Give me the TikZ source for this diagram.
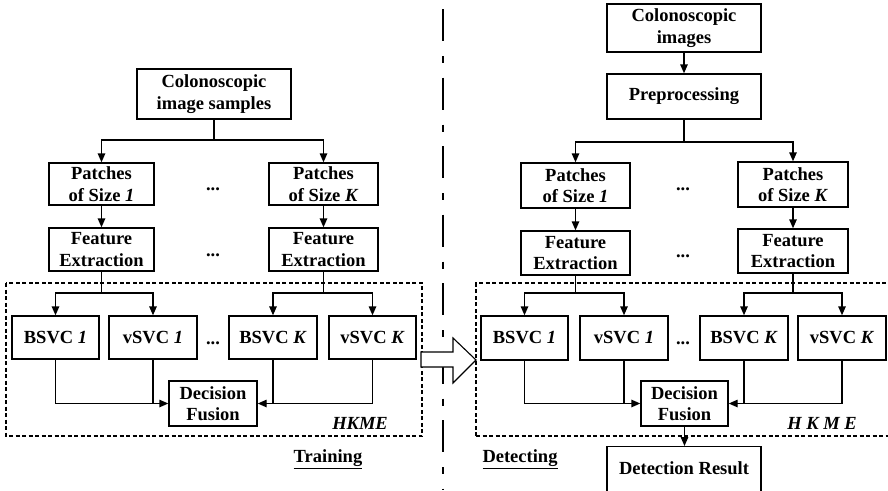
\documentclass[tikz,border=0pt]{standalone}
\usepackage{fontspec}
\setmainfont{Liberation Serif}
\usetikzlibrary{arrows.meta}
\begin{document}
\begin{tikzpicture}[x=1pt,y=-1pt,
  box/.style={draw, line width=1.4pt, inner sep=0pt, align=center},
  sz/.style 2 args={minimum width=#1pt, minimum height=#2pt},
  arr/.style={line width=1.4pt, -{Triangle[length=9pt,width=7.5pt]}},
  link/.style={line width=1.4pt},
  hk/.style={draw, line width=1.1pt, dash pattern=on 4pt off 2.5pt},
  dots/.style={anchor=base, inner sep=0pt},
  font=\fontsize{18.5}{21.5}\selectfont\bfseries]
\useasboundingbox (0,0) rectangle (888,490);
\clip (0,0) rectangle (888,490);

% ---------------- Training (left half) ----------------
\draw[hk] (6,283) rectangle (422,436);
\node[box, sz={154}{50}] (cis) at (214,94) {Colonoscopic\\image samples};
\node[box, sz={105}{42}] (p1L) at (101.5,184) {Patches\\of Size \textit{1}};
\node[box, sz={109}{42}] (pKL) at (323.5,184) {Patches\\of Size \textit{K}};
\node[box, sz={105}{43}] (f1L) at (101.5,249.5) {Feature\\Extraction};
\node[box, sz={109}{43}] (fKL) at (323.5,249.5) {Feature\\Extraction};
\node[dots] (d1L) at (213,190) {...};
\node[dots] (d2L) at (213,256) {...};
\node[box, sz={87}{43}] (b1L) at (55.5,337.5) {BSVC \textit{1}};
\node[box, sz={88}{43}] (v1L) at (153,337.5) {vSVC \textit{1}};
\node[box, sz={88}{43}] (bKL) at (273,337.5) {BSVC \textit{K}};
\node[box, sz={87}{43}] (vKL) at (372.5,337.5) {vSVC \textit{K}};
\node[dots] (d3L) at (213,344) {...};
\node[box, sz={88}{45}] (dfL) at (213,403.5) {Decision\\Fusion};
\node[anchor=base east, inner sep=0pt, font=\fontsize{18.5}{21.5}\selectfont\bfseries\itshape] (hkL) at (388,429) {HKME};
\node[inner sep=0pt] (trn) at (328,459) {\underline{Training}};

\draw[link] (cis.south) -- (cis.south |- 0,140) coordinate (jcL);
\draw[arr] (jcL) -| (p1L.north);
\draw[arr] (jcL) -| (pKL.north);
\draw[arr] (p1L) -- (f1L);
\draw[arr] (pKL) -- (fKL);
\draw[link] (f1L.south) -- (f1L.south |- 0,293) coordinate (j1L);
\draw[arr] (j1L) -| (b1L.north);
\draw[arr] (j1L) -| (v1L.north);
\draw[link] (fKL.south) -- (fKL.south |- 0,293) coordinate (jKL);
\draw[arr] (jKL) -| (bKL.north);
\draw[arr] (jKL) -| (vKL.north);
\draw[arr] (b1L.south) |- (dfL.west);
\draw[link] (v1L.south) -- (v1L.south |- dfL.west);
\draw[arr] (vKL.south) |- (dfL.east);
\draw[link] (bKL.south) -- (bKL.south |- dfL.east);

% ---------------- divider ----------------
\draw[line width=1.3pt, dash pattern=on 32pt off 15pt on 7pt off 14.5pt, dash phase=59.5pt]
  (443,0) -- (443,490);

% hollow arrow from training to detecting
\draw[line width=1.1pt, fill=white]
  (421,352) -- (453,352) -- (453,338) -- (476,360) -- (453,383) -- (453,367) -- (421,367) -- cycle;

% ---------------- Detecting (right half) ----------------
\draw[hk] (476,436) -- (476,283) -- (900,283);
\draw[hk] (476,436) -- (900,436);
\node[box, sz={154}{48}] (ci) at (684,28) {Colonoscopic\\images};
\node[box, sz={154}{45}] (pre) at (684,96.5) {Preprocessing};
\node[box, sz={109}{45}] (p1R) at (575.5,185.5) {Patches\\of Size \textit{1}};
\node[box, sz={110}{45}] (pKR) at (793,184.5) {Patches\\of Size \textit{K}};
\node[box, sz={109}{44}] (f1R) at (575.5,253) {Feature\\Extraction};
\node[box, sz={110}{44}] (fKR) at (793,251) {Feature\\Extraction};
\node[dots] (d1R) at (683,190) {...};
\node[dots] (d2R) at (683,257) {...};
\node[box, sz={87}{44}] (b1R) at (524.5,338) {BSVC \textit{1}};
\node[box, sz={88}{44}] (v1R) at (624,338) {vSVC \textit{1}};
\node[box, sz={88}{44}] (bKR) at (744,338) {BSVC \textit{K}};
\node[box, sz={88}{44}] (vKR) at (842,338) {vSVC \textit{K}};
\node[dots] (d3R) at (683,344) {...};
\node[box, sz={87}{45}] (dfR) at (684.5,403.5) {Decision\\Fusion};
\node[anchor=base east, inner sep=0pt, font=\fontsize{18.5}{21.5}\selectfont\bfseries\itshape] (hkR) at (857,429) {H K M E};
\node[inner sep=0pt] (det) at (520,459) {\underline{Detecting}};
\node[box, sz={154}{64}, anchor=north] (res) at (684,446) {};
\node[inner sep=0pt] (resT) at (684,468) {Detection Result};

\draw[arr] (ci) -- (pre);
\draw[link] (pre.south) -- (pre.south |- 0,142) coordinate (jcR);
\draw[arr] (jcR) -| (p1R.north);
\draw[arr] (jcR) -| (pKR.north);
\draw[arr] (p1R) -- (f1R);
\draw[arr] (pKR) -- (fKR);
\draw[link] (f1R.south) -- (f1R.south |- 0,293) coordinate (j1R);
\draw[arr] (j1R) -| (b1R.north);
\draw[arr] (j1R) -| (v1R.north);
\draw[link] (fKR.south) -- (fKR.south |- 0,293) coordinate (jKR);
\draw[arr] (jKR) -| (bKR.north);
\draw[arr] (jKR) -| (vKR.north);
\draw[arr] (b1R.south) |- (dfR.west);
\draw[link] (v1R.south) -- (v1R.south |- dfR.west);
\draw[arr] (vKR.south) |- (dfR.east);
\draw[link] (bKR.south) -- (bKR.south |- dfR.east);
\draw[arr] (dfR.south) -- (res.north -| dfR.south);
\end{tikzpicture}
\end{document}
